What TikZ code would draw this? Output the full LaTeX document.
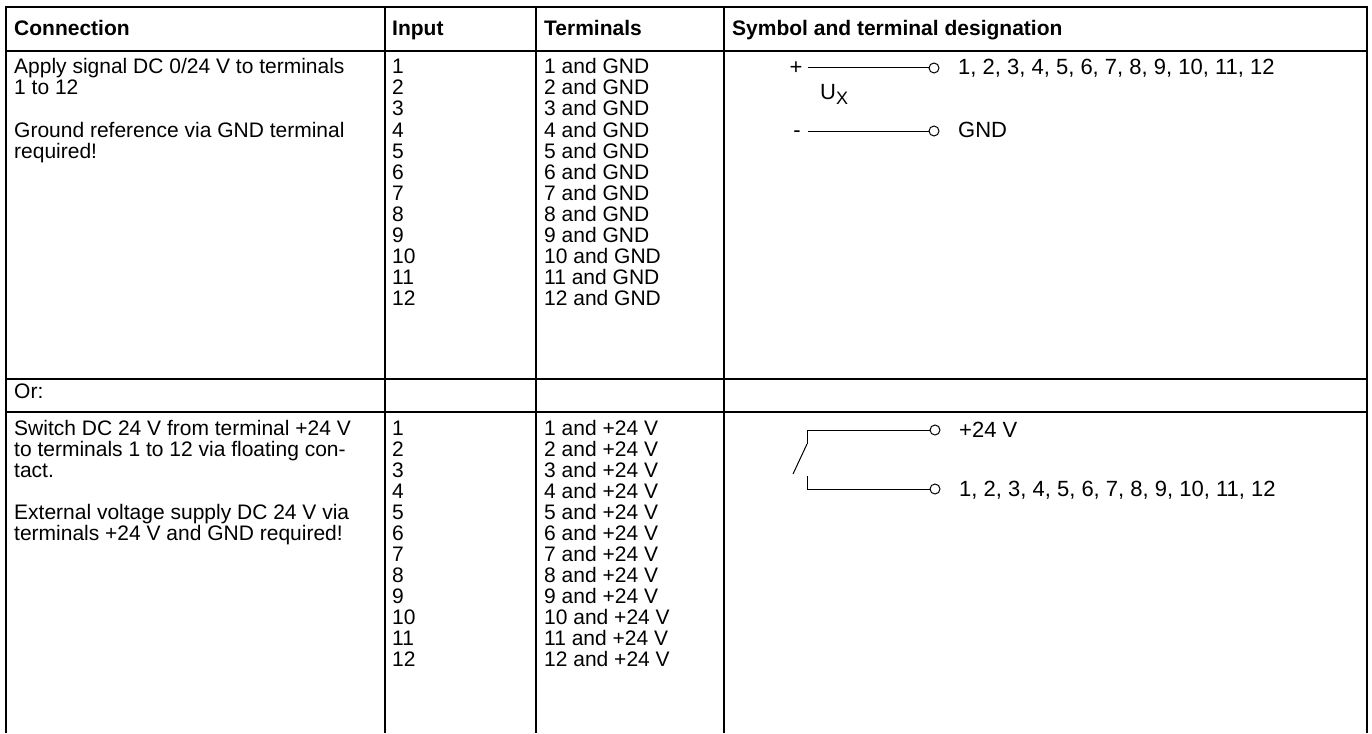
\documentclass[tikz,border=0pt]{standalone}
\usepackage{fontspec}
\setmainfont{Liberation Sans}
\begin{document}
\begin{tikzpicture}[x=1pt,y=-1pt,
  txt/.style={anchor=base west, inner sep=0pt, font=\fontsize{21}{21}\selectfont},
  hdr/.style={anchor=base west, inner sep=0pt, font=\fontsize{21}{21}\selectfont\bfseries},
  stxt/.style={anchor=base west, inner sep=0pt, font=\fontsize{22}{22}\selectfont},
  sgn/.style={anchor=base, inner sep=0pt, font=\fontsize{22}{22}\selectfont},
  grid/.style={line width=1.6pt},
  wire/.style={line width=1pt},
  term/.style={circle, draw, line width=1pt, minimum size=10pt, inner sep=0pt}]
\useasboundingbox (0,0) rectangle (1372,733);
% table grid
\draw[grid] (6,733) -- (6,7) -- (1367,7) -- (1367,733);
\draw[grid] (6,51) -- (1367,51);
\draw[grid] (6,379) -- (1367,379);
\draw[grid] (6,412) -- (1367,412);
\draw[grid] (385,7) -- (385,733);
\draw[grid] (536,7) -- (536,733);
\draw[grid] (724,7) -- (724,733);
% header
\node[hdr] (h1) at (14,36) {Connection};
\node[hdr] (h2) at (392,36) {Input};
\node[hdr] (h3) at (544,36) {Terminals};
\node[hdr] (h4) at (732,36) {Symbol and terminal designation};
% block 1
\node[txt] (a1) at (14,74) {Apply signal DC 0/24 V to terminals};
\node[txt] (a2) at (14,95) {1 to 12};
\node[txt] (a3) at (14,137) {Ground reference via GND terminal};
\node[txt] (a4) at (14,158) {required!};
\foreach \i in {1,...,12} {
  \node[txt] (in\i) at (392,{74+21*(\i-1)}) {\i};
  \node[txt] (tg\i) at (544,{74+21*(\i-1)}) {\i{} and GND};
}
% or row
\node[txt] (or) at (14,398) {Or:};
% block 2
\node[txt] (b1) at (14,435) {Switch DC 24 V from terminal +24 V};
\node[txt] (b2) at (14,456) {to terminals 1 to 12 via floating con-};
\node[txt] (b3) at (14,477) {tact.};
\node[txt] (b4) at (14,519) {External voltage supply DC 24 V via};
\node[txt] (b5) at (14,540) {terminals +24 V and GND required!};
\foreach \i in {1,...,12} {
  \node[txt] (inb\i) at (392,{435+21*(\i-1)}) {\i};
  \node[txt] (tb\i) at (544,{435+21*(\i-1)}) {\i{} and +24 V};
}
% symbol 1
\node[sgn] (plus) at (796,75) {+};
\coordinate (pL) at (808,68);
\node[term] (pT) at (934,68) {};
\draw[wire] (pL) -- (pT);
\node[stxt] (pLab) at (958,75) {1, 2, 3, 4, 5, 6, 7, 8, 9, 10, 11, 12};
\node[stxt] (ux) at (820,100) {U\raisebox{-5pt}{\fontsize{18}{18}\selectfont X}};
\node[sgn] (minus) at (797,138) {-};
\coordinate (mL) at (808,131);
\node[term] (mT) at (934,131) {};
\draw[wire] (mL) -- (mT);
\node[stxt] (mLab) at (958,138) {GND};
% symbol 2
\node[term] (sT1) at (935,430) {};
\node[term] (sT2) at (935,489) {};
\coordinate (s1) at (807,444);
\coordinate (s2) at (807,476);
\coordinate (sd) at (793,474);
\draw[wire] (s1) |- (sT1);
\draw[wire] (s2) |- (sT2);
\draw[wire] (s1) -- (sd);
\node[stxt] (sLab1) at (959,437) {+24 V};
\node[stxt] (sLab2) at (959,496) {1, 2, 3, 4, 5, 6, 7, 8, 9, 10, 11, 12};
\end{tikzpicture}
\end{document}
